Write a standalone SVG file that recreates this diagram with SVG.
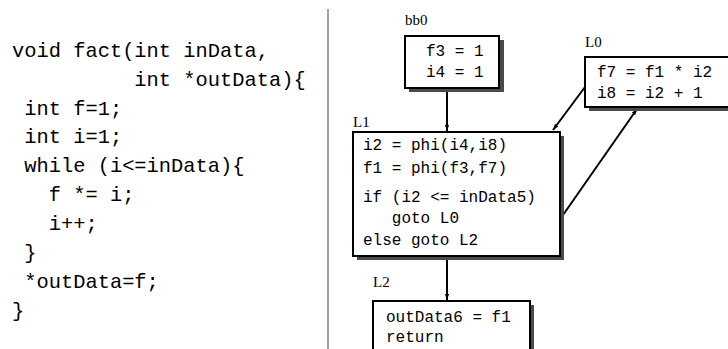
<svg xmlns="http://www.w3.org/2000/svg" width="728" height="349" viewBox="0 0 728 349">
<style>
.code{font-family:"Liberation Mono","DejaVu Sans Mono",monospace;font-size:20.4px;fill:#000;white-space:pre}
.mono{font-family:"Liberation Mono","DejaVu Sans Mono",monospace;font-size:16px;fill:#000;white-space:pre}
.lbl{font-family:"Liberation Serif","Times New Roman",serif;font-size:15px;fill:#000}
.box{fill:#fff;stroke:#000;stroke-width:2}
.shd{fill:#4a4a4a}
.edge{stroke:#000;stroke-width:2;fill:none;marker-end:url(#ah)}
</style>
<defs>
<marker id="ah" viewBox="0 0 10 10" refX="10" refY="5" markerWidth="6" markerHeight="6" orient="auto" markerUnits="userSpaceOnUse">
<path d="M0,1.5 L10,5 L0,8.5 Z" fill="#000"/>
</marker>
</defs>
<rect width="728" height="349" fill="#fff"/>
<g id="source">
<text class="code" xml:space="preserve" x="12" y="57">void fact(int inData,</text>
<text class="code" xml:space="preserve" x="12" y="86">          int *outData){</text>
<text class="code" xml:space="preserve" x="12" y="115"> int f=1;</text>
<text class="code" xml:space="preserve" x="12" y="143"> int i=1;</text>
<text class="code" xml:space="preserve" x="12" y="172"> while (i&lt;=inData){</text>
<text class="code" xml:space="preserve" x="12" y="201">   f *= i;</text>
<text class="code" xml:space="preserve" x="12" y="230">   i++;</text>
<text class="code" xml:space="preserve" x="12" y="259"> }</text>
<text class="code" xml:space="preserve" x="12" y="288"> *outData=f;</text>
<text class="code" xml:space="preserve" x="12" y="317">}</text>
</g>
<line x1="328" y1="9" x2="328" y2="349" stroke="#666" stroke-width="1.2"/>
<g id="connectors">
<line class="edge" x1="447" y1="88" x2="447" y2="131"/>
<line class="edge" x1="585" y1="87" x2="553" y2="130"/>
<line class="edge" x1="563" y1="215" x2="637" y2="109"/>
<line class="edge" x1="447" y1="257" x2="447" y2="300"/>
</g>
<g id="bb0">
<text class="lbl" x="405" y="25">bb0</text>
<rect class="shd" x="409" y="40" width="95" height="52"/>
<rect class="box" x="405" y="36" width="94" height="52"/>
<text class="mono" x="426" y="56">f3 = 1</text>
<text class="mono" x="426" y="77">i4 = 1</text>
</g>
<g id="L0">
<text class="lbl" x="585" y="47">L0</text>
<rect class="shd" x="589" y="61" width="145" height="50"/>
<rect class="box" x="585" y="57" width="150" height="50"/>
<text class="mono" x="597" y="77">f7 = f1 * i2</text>
<text class="mono" x="597" y="98">i8 = i2 + 1</text>
</g>
<g id="L1">
<text class="lbl" x="353" y="127">L1</text>
<rect class="shd" x="357" y="136" width="207" height="124"/>
<rect class="box" x="353" y="132" width="207" height="124"/>
<text class="mono" x="363" y="150">i2 = phi(i4,i8)</text>
<text class="mono" x="363" y="173">f1 = phi(f3,f7)</text>
<text class="mono" xml:space="preserve" x="363" y="202">if (i2 &lt;= inData5)</text>
<text class="mono" xml:space="preserve" x="363" y="223">   goto L0</text>
<text class="mono" x="363" y="245">else goto L2</text>
</g>
<g id="L2">
<text class="lbl" x="373" y="287">L2</text>
<rect class="shd" x="377" y="305" width="157" height="60"/>
<rect class="box" x="373" y="301" width="157" height="60"/>
<text class="mono" x="386" y="322">outData6 = f1</text>
<text class="mono" x="386" y="342">return</text>
</g>
</svg>
